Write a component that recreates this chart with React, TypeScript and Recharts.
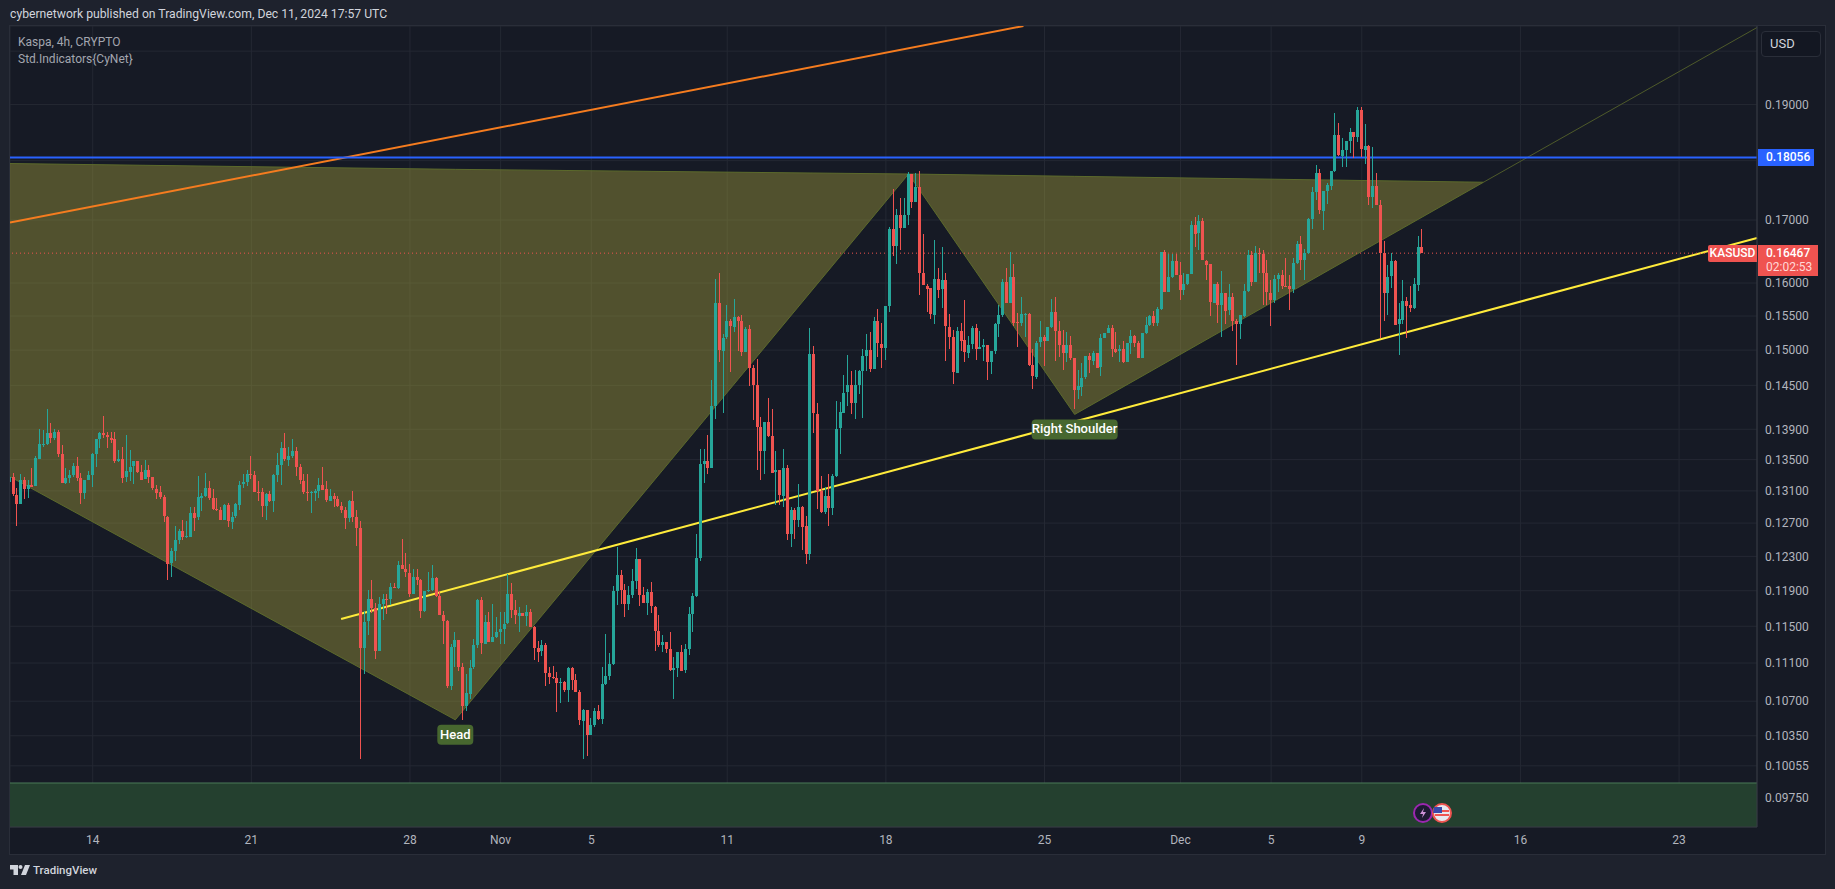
import React from "react";
import {
  Area,
  Bar,
  CartesianGrid,
  ComposedChart,
  ReferenceArea,
  ReferenceDot,
  ReferenceLine,
  XAxis,
  YAxis,
} from "recharts";

const UP = "#26a69a";
const DOWN = "#ef5350";
const FONT = "Roboto, 'Noto Sans', sans-serif";

// 4h candles, the first one opens Oct 10 08:00. Day numbers count from Oct 0.
const FIRST_DAY = 10 + 1 / 3;
const FIRST_OPEN = 0.132;

const closes = [
  0.1327, 0.1305, 0.1294, 0.1324, 0.1313, 0.1318, 0.1316, 0.1352, 0.1371, 0.1371,
  0.1385, 0.1378, 0.1386, 0.1357, 0.132, 0.1326, 0.133, 0.1342, 0.1326, 0.1307,
  0.1324, 0.133, 0.1357, 0.1377, 0.1385, 0.1382, 0.1379, 0.1377, 0.1348, 0.1351,
  0.1327, 0.1335, 0.1341, 0.1348, 0.1334, 0.1324, 0.1336, 0.1327, 0.1313, 0.1308,
  0.1302, 0.1278, 0.1222, 0.1236, 0.1249, 0.126, 0.1253, 0.1254, 0.1283, 0.1277,
  0.1302, 0.1304, 0.1314, 0.1301, 0.1287, 0.1286, 0.1274, 0.1292, 0.1272, 0.1278,
  0.1293, 0.1318, 0.1321, 0.1331, 0.133, 0.1309, 0.1308, 0.1291, 0.1306, 0.1297,
  0.133, 0.1343, 0.1365, 0.135, 0.1355, 0.1361, 0.134, 0.1323, 0.1309, 0.1308,
  0.1308, 0.131, 0.1318, 0.1312, 0.1298, 0.1304, 0.13, 0.1291, 0.1286, 0.1276,
  0.1297, 0.1277, 0.1264, 0.1126, 0.1155, 0.118, 0.117, 0.1123, 0.1175, 0.1181,
  0.118, 0.1194, 0.1193, 0.122, 0.1215, 0.1211, 0.1187, 0.1206, 0.1202, 0.1167,
  0.119, 0.1191, 0.1205, 0.1184, 0.1163, 0.1156, 0.1086, 0.1127, 0.1135, 0.1106,
  0.1065, 0.1078, 0.1105, 0.1129, 0.1179, 0.1131, 0.1155, 0.1133, 0.1138, 0.1144,
  0.1147, 0.1153, 0.1186, 0.1168, 0.1162, 0.1165, 0.1162, 0.1166, 0.1149, 0.1126,
  0.1122, 0.1129, 0.1099, 0.1095, 0.1094, 0.1089, 0.109, 0.1082, 0.1105, 0.1092,
  0.1079, 0.105, 0.1061, 0.1036, 0.1046, 0.106, 0.1052, 0.1088, 0.1096, 0.1109,
  0.119, 0.1208, 0.1191, 0.1175, 0.1185, 0.1201, 0.1227, 0.1185, 0.1176, 0.1188,
  0.1172, 0.1145, 0.113, 0.1133, 0.1125, 0.1103, 0.1105, 0.1122, 0.1102, 0.1125,
  0.1164, 0.1184, 0.1228, 0.1344, 0.1348, 0.1339, 0.1421, 0.1569, 0.1499, 0.1518,
  0.1542, 0.1534, 0.1549, 0.1543, 0.1498, 0.1531, 0.1474, 0.145, 0.1393, 0.1361,
  0.14, 0.1381, 0.1333, 0.1336, 0.1304, 0.1339, 0.1257, 0.1286, 0.1274, 0.129,
  0.1266, 0.1232, 0.1494, 0.1411, 0.131, 0.1284, 0.1304, 0.1289, 0.1329, 0.1391,
  0.1413, 0.144, 0.145, 0.1425, 0.145, 0.147, 0.1491, 0.15, 0.1473, 0.1542,
  0.1509, 0.1503, 0.1565, 0.1685, 0.1658, 0.1709, 0.1688, 0.1709, 0.1777, 0.173,
  0.1755, 0.1615, 0.1596, 0.1592, 0.1553, 0.1607, 0.159, 0.1604, 0.1534, 0.1519,
  0.1468, 0.1528, 0.1514, 0.1496, 0.1508, 0.1532, 0.1502, 0.1505, 0.1508, 0.1483,
  0.1499, 0.1538, 0.1552, 0.1602, 0.157, 0.161, 0.1541, 0.154, 0.1553, 0.1553,
  0.1478, 0.1462, 0.1511, 0.1519, 0.1513, 0.1534, 0.1556, 0.1528, 0.1507, 0.1495,
  0.1507, 0.1488, 0.1443, 0.1449, 0.1461, 0.1491, 0.1485, 0.1496, 0.1475, 0.1517,
  0.1525, 0.1533, 0.1502, 0.1498, 0.1501, 0.1482, 0.151, 0.152, 0.151, 0.1489,
  0.1525, 0.1537, 0.155, 0.154, 0.1561, 0.1649, 0.1587, 0.161, 0.1635, 0.1613,
  0.159, 0.1599, 0.1614, 0.1692, 0.1678, 0.1698, 0.1635, 0.1629, 0.157, 0.1599,
  0.1567, 0.1585, 0.1558, 0.1578, 0.1542, 0.1537, 0.1551, 0.1588, 0.1644, 0.1602,
  0.1647, 0.1645, 0.1615, 0.1585, 0.1575, 0.1607, 0.1613, 0.1596, 0.1595, 0.159,
  0.1631, 0.1661, 0.1636, 0.1647, 0.1701, 0.1746, 0.1778, 0.1715, 0.1748, 0.1758,
  0.1783, 0.1845, 0.1809, 0.1819, 0.1834, 0.185, 0.1841, 0.1889, 0.1819, 0.1826,
  0.1738, 0.1756, 0.1725, 0.1647, 0.1585, 0.161, 0.1634, 0.1537, 0.1545, 0.1573,
  0.1566, 0.1561, 0.1598, 0.1657, 0.16467,
];

const highs = [
  0.1334, 0.1333, 0.1314, 0.1331, 0.1327, 0.1324, 0.1339, 0.1355, 0.139, 0.1389,
  0.1418, 0.1398, 0.139, 0.1389, 0.1369, 0.1339, 0.1337, 0.1346, 0.1353, 0.1333,
  0.1324, 0.1335, 0.1358, 0.1377, 0.1387, 0.1408, 0.1387, 0.1386, 0.1386, 0.1362,
  0.1367, 0.1382, 0.1363, 0.1348, 0.1348, 0.1343, 0.1349, 0.1343, 0.1328, 0.1318,
  0.1316, 0.1305, 0.1279, 0.124, 0.1266, 0.1263, 0.1274, 0.1273, 0.129, 0.129,
  0.1329, 0.1307, 0.1333, 0.1322, 0.1313, 0.1301, 0.129, 0.1293, 0.1295, 0.1284,
  0.1295, 0.1322, 0.1331, 0.1337, 0.1355, 0.1335, 0.1322, 0.1314, 0.1307, 0.131,
  0.1331, 0.1359, 0.1373, 0.1385, 0.1367, 0.1377, 0.1367, 0.1344, 0.1331, 0.1331,
  0.131, 0.1313, 0.1326, 0.134, 0.1323, 0.1313, 0.1307, 0.1304, 0.1296, 0.129,
  0.1298, 0.131, 0.1286, 0.1272, 0.1167, 0.1191, 0.1202, 0.1176, 0.1183, 0.1186,
  0.1186, 0.1199, 0.1199, 0.1225, 0.1251, 0.1234, 0.1221, 0.1215, 0.1215, 0.1204,
  0.119, 0.1212, 0.122, 0.1206, 0.119, 0.1167, 0.1157, 0.1131, 0.1144, 0.1135,
  0.111, 0.1098, 0.1113, 0.1136, 0.1181, 0.1183, 0.1162, 0.1166, 0.1175, 0.116,
  0.1166, 0.1166, 0.1209, 0.1199, 0.1179, 0.1172, 0.1165, 0.1174, 0.1169, 0.115,
  0.1134, 0.1135, 0.1132, 0.1106, 0.1107, 0.1101, 0.1094, 0.1091, 0.1106, 0.1106,
  0.1098, 0.1082, 0.1062, 0.1061, 0.1053, 0.1063, 0.1066, 0.1106, 0.1141, 0.1121,
  0.1195, 0.1241, 0.1214, 0.1198, 0.1195, 0.1215, 0.124, 0.1227, 0.1194, 0.1192,
  0.12, 0.1173, 0.1162, 0.114, 0.1133, 0.1144, 0.1116, 0.1122, 0.1129, 0.1131,
  0.1171, 0.1187, 0.1257, 0.1364, 0.1364, 0.1382, 0.1457, 0.1607, 0.1616, 0.1524,
  0.1567, 0.1545, 0.1576, 0.155, 0.1552, 0.1534, 0.1536, 0.1478, 0.1487, 0.1407,
  0.14, 0.1433, 0.1417, 0.1361, 0.1336, 0.1364, 0.1343, 0.129, 0.1289, 0.1319,
  0.1291, 0.1279, 0.1533, 0.1506, 0.1425, 0.1329, 0.1315, 0.1332, 0.1331, 0.1429,
  0.1427, 0.1464, 0.1493, 0.147, 0.1471, 0.1471, 0.1502, 0.1523, 0.1526, 0.1548,
  0.1561, 0.154, 0.1565, 0.1688, 0.1752, 0.1719, 0.1736, 0.1736, 0.1781, 0.1777,
  0.1779, 0.1783, 0.1677, 0.1598, 0.1593, 0.1668, 0.1624, 0.1656, 0.1615, 0.1553,
  0.1529, 0.1534, 0.154, 0.1574, 0.152, 0.1535, 0.1538, 0.1528, 0.1516, 0.1508,
  0.1499, 0.154, 0.1567, 0.1607, 0.1624, 0.1649, 0.1629, 0.1555, 0.1578, 0.1555,
  0.1555, 0.1502, 0.1513, 0.1543, 0.1522, 0.1534, 0.1576, 0.1578, 0.1543, 0.1529,
  0.1526, 0.152, 0.1489, 0.1471, 0.1482, 0.1491, 0.1496, 0.1499, 0.1496, 0.1523,
  0.1525, 0.1537, 0.1536, 0.1526, 0.1508, 0.1513, 0.151, 0.153, 0.1522, 0.1513,
  0.1525, 0.1548, 0.1552, 0.1557, 0.1563, 0.1649, 0.1652, 0.1646, 0.1646, 0.1646,
  0.1632, 0.1616, 0.1614, 0.1698, 0.1705, 0.1709, 0.1703, 0.1636, 0.163, 0.1599,
  0.1602, 0.1619, 0.1585, 0.1599, 0.1585, 0.1545, 0.1551, 0.1599, 0.1652, 0.165,
  0.1658, 0.1655, 0.1652, 0.1636, 0.1605, 0.1613, 0.1615, 0.162, 0.1639, 0.1613,
  0.1639, 0.1666, 0.1674, 0.1653, 0.1703, 0.1755, 0.1793, 0.1786, 0.1749, 0.1761,
  0.1783, 0.1884, 0.1866, 0.1839, 0.1834, 0.1857, 0.185, 0.1896, 0.1896, 0.1864,
  0.1827, 0.1824, 0.1778, 0.1733, 0.1666, 0.1628, 0.1647, 0.1636, 0.1569, 0.1604,
  0.1579, 0.1595, 0.1608, 0.1674, 0.1685,
];

const lows = [
  0.13, 0.1304, 0.1267, 0.1294, 0.1299, 0.1301, 0.1315, 0.1316, 0.1351, 0.1367,
  0.137, 0.1372, 0.1376, 0.1354, 0.132, 0.1319, 0.1321, 0.1328, 0.1322, 0.1294,
  0.13, 0.1323, 0.1314, 0.1341, 0.1366, 0.1378, 0.1366, 0.1371, 0.1345, 0.1346,
  0.1321, 0.1321, 0.1323, 0.1319, 0.1333, 0.1324, 0.1324, 0.132, 0.1312, 0.13,
  0.13, 0.1272, 0.1203, 0.1206, 0.1224, 0.1245, 0.125, 0.1252, 0.1254, 0.1261,
  0.1274, 0.1284, 0.1302, 0.1298, 0.1287, 0.1285, 0.1274, 0.1274, 0.1265, 0.1263,
  0.1276, 0.1286, 0.1313, 0.1317, 0.1325, 0.1309, 0.1297, 0.1278, 0.1274, 0.1296,
  0.1283, 0.1322, 0.1317, 0.1348, 0.1342, 0.1352, 0.133, 0.1318, 0.1306, 0.1297,
  0.1282, 0.1298, 0.1301, 0.1312, 0.1296, 0.1298, 0.129, 0.129, 0.1282, 0.1263,
  0.1271, 0.1272, 0.1242, 0.1012, 0.1098, 0.1141, 0.1164, 0.1114, 0.1123, 0.1157,
  0.1163, 0.1174, 0.1193, 0.1193, 0.1215, 0.1206, 0.1183, 0.1186, 0.1196, 0.116,
  0.1166, 0.1189, 0.119, 0.1183, 0.1163, 0.1131, 0.1084, 0.1082, 0.1106, 0.1102,
  0.1051, 0.106, 0.1072, 0.1104, 0.1127, 0.112, 0.1131, 0.1133, 0.1133, 0.1137,
  0.1131, 0.1131, 0.1152, 0.1159, 0.1152, 0.1144, 0.1162, 0.115, 0.1149, 0.1113,
  0.1111, 0.1118, 0.1086, 0.1088, 0.1093, 0.1059, 0.1068, 0.1079, 0.1069, 0.1082,
  0.1079, 0.1046, 0.1012, 0.1015, 0.1036, 0.1044, 0.1051, 0.1047, 0.1086, 0.1092,
  0.1108, 0.1174, 0.1175, 0.1161, 0.1168, 0.1181, 0.1192, 0.1173, 0.1176, 0.1163,
  0.1165, 0.1123, 0.1127, 0.1122, 0.1121, 0.1102, 0.1072, 0.1095, 0.1101, 0.11,
  0.1118, 0.1143, 0.1183, 0.1225, 0.132, 0.1331, 0.1339, 0.1404, 0.1484, 0.1413,
  0.1517, 0.1468, 0.1527, 0.1498, 0.1492, 0.1497, 0.1448, 0.1402, 0.1336, 0.1324,
  0.1332, 0.138, 0.1333, 0.1292, 0.1292, 0.129, 0.1249, 0.1241, 0.1251, 0.1266,
  0.1238, 0.1221, 0.1226, 0.1385, 0.1287, 0.1282, 0.1281, 0.1267, 0.128, 0.1328,
  0.1358, 0.1411, 0.1422, 0.1411, 0.1403, 0.1437, 0.1405, 0.147, 0.1468, 0.1472,
  0.1491, 0.1475, 0.1486, 0.1556, 0.1642, 0.1631, 0.1652, 0.1688, 0.1692, 0.1719,
  0.173, 0.1583, 0.1596, 0.1556, 0.1546, 0.1538, 0.1578, 0.1561, 0.1484, 0.1501,
  0.1452, 0.1468, 0.1499, 0.1483, 0.1488, 0.1501, 0.1485, 0.1504, 0.1484, 0.1458,
  0.1466, 0.1495, 0.152, 0.1549, 0.157, 0.157, 0.1535, 0.1505, 0.1535, 0.152,
  0.1478, 0.1445, 0.1458, 0.1505, 0.1477, 0.1513, 0.1532, 0.1484, 0.1491, 0.1471,
  0.1483, 0.1485, 0.1418, 0.143, 0.1436, 0.1459, 0.1468, 0.1479, 0.1474, 0.1462,
  0.1517, 0.1525, 0.1489, 0.1496, 0.1484, 0.1482, 0.1482, 0.1495, 0.1504, 0.1489,
  0.1489, 0.1523, 0.1535, 0.1535, 0.1535, 0.156, 0.1587, 0.1587, 0.1608, 0.1613,
  0.1573, 0.1582, 0.1597, 0.1614, 0.1657, 0.1652, 0.1635, 0.1605, 0.1551, 0.157,
  0.154, 0.1519, 0.1538, 0.1552, 0.1528, 0.1478, 0.1516, 0.1549, 0.1587, 0.1596,
  0.1602, 0.1616, 0.1567, 0.1567, 0.1535, 0.157, 0.1585, 0.1591, 0.1594, 0.156,
  0.1584, 0.1629, 0.162, 0.1604, 0.1645, 0.1685, 0.1733, 0.1711, 0.1685, 0.1725,
  0.1751, 0.178, 0.1807, 0.1788, 0.1788, 0.1812, 0.1804, 0.1834, 0.1807, 0.1793,
  0.1725, 0.172, 0.1725, 0.1517, 0.1542, 0.1552, 0.1593, 0.1537, 0.1492, 0.1537,
  0.1518, 0.1555, 0.1561, 0.1588, 0.1647,
];

// tick labels
const priceTicks = [
  0.2, 0.19, 0.18, 0.17, 0.16, 0.155, 0.15, 0.145, 0.139, 0.135, 0.131, 0.127, 0.123,
  0.119, 0.115, 0.111, 0.107, 0.1035, 0.10055, 0.0975,
];
const hiddenPriceTicks = [0.2, 0.18];
const dayTicks = [14, 21, 28, 32, 36, 42, 49, 56, 62, 66, 70, 77, 84];
const dayLabels = ["14", "21", "28", "Nov", "5", "11", "18", "25", "Dec", "5", "9", "16", "23"];

// head and shoulders pattern, outline
const patternDays = [10.35, 30, 50, 57.33, 75.37];
const patternLower = [0.1328, 0.1051, 0.1777, 0.141, 0.1763];
const patternUpper = [0.1795, 0.1785, 0.1777, 0.1773, 0.1763];

const DAY_MIN = 10.35;
const DAY_MAX = 87.44;
const PRICE_MIN = 0.0948;
const PRICE_MAX = 0.2049;

const opens = closes.map((_, i) => (i === 0 ? FIRST_OPEN : closes[i - 1]));
const candles = closes.map((close, i) => ({
  day: FIRST_DAY + i / 6,
  open: opens[i],
  close,
  wick: [lows[i], highs[i]],
  body: [Math.min(opens[i], close), Math.max(opens[i], close)],
}));
const patternRows = patternDays.map((day, i) => ({
  day,
  band: [patternLower[i], patternUpper[i]],
}));

const CandlePart = (props: any) => {
  const { x, y, width, height, payload } = props;
  const up = payload.close >= payload.open;
  return (
    <rect
      x={Math.round(x)}
      y={Math.round(y)}
      width={width}
      height={Math.max(Math.round(height), 1)}
      fill={up ? UP : DOWN}
      shapeRendering="crispEdges"
    />
  );
};

const PatternLabel = ({ cx, cy, text, width }: any) => (
  <g>
    <rect x={cx - width / 2} y={cy + 5} width={width} height={20} rx={4} fill="#47672f" />
    <text
      x={cx}
      y={cy + 19}
      textAnchor="middle"
      fontFamily={FONT}
      fontSize={13}
      fontWeight={500}
      fill="#ffffff"
    >
      {text}
    </text>
  </g>
);

const tag: React.CSSProperties = {
  position: "absolute",
  color: "#fff",
  fontFamily: FONT,
  fontSize: 12,
  fontWeight: 500,
  boxSizing: "border-box",
};

// one hidden time axis per layer, so wicks and bodies share a slot
const hiddenAxis = (id: string) => (
  <XAxis
    key={id}
    xAxisId={id}
    dataKey="day"
    type="number"
    domain={[DAY_MIN, DAY_MAX]}
    allowDataOverflow
    height={0}
    hide
  />
);

export default function App() {
  return (
    <div
      style={{
        position: "absolute",
        left: 0,
        top: 0,
        width: 1835,
        height: 889,
        overflow: "hidden",
        background: "#1e222d",
        fontFamily: FONT,
      }}
    >
      <div style={{ position: "absolute", left: 10, top: 7, fontSize: 12.2, color: "#d1d4dc", whiteSpace: "nowrap" }}>
        cybernetwork published on TradingView.com, Dec 11, 2024 17:57 UTC
      </div>

      <div
        style={{
          position: "absolute",
          left: 10,
          top: 26,
          width: 1815,
          height: 828,
          background: "#161a25",
          outline: "1px solid #2a2e39",
        }}
      >
        <ComposedChart
          width={1815}
          height={828}
          data={candles}
          margin={{ top: 0, right: 0, bottom: 0, left: 0 }}
        >
          <CartesianGrid xAxisId="main" stroke="#242833" />
          <XAxis
            xAxisId="main"
            dataKey="day"
            type="number"
            domain={[DAY_MIN, DAY_MAX]}
            allowDataOverflow
            ticks={dayTicks}
            interval={0}
            height={27}
            tickLine={false}
            stroke="#363a45"
            tick={{ fill: "#b2b5be", fontSize: 12, fontFamily: FONT }}
            tickFormatter={(d: number) => dayLabels[dayTicks.indexOf(d)]}
          />
          {hiddenAxis("pattern")}
          {hiddenAxis("wick")}
          {hiddenAxis("body")}
          <YAxis
            orientation="right"
            scale="log"
            type="number"
            domain={[PRICE_MIN, PRICE_MAX]}
            allowDataOverflow
            ticks={priceTicks}
            interval={0}
            width={68}
            tickLine={false}
            stroke="#363a45"
            tick={{ fill: "#b2b5be", fontSize: 12, fontFamily: FONT }}
            tickFormatter={(v: number) => (hiddenPriceTicks.includes(v) ? "" : v.toFixed(5))}
          />

          <ReferenceArea
            xAxisId="main"
            x1={DAY_MIN}
            x2={DAY_MAX}
            y1={PRICE_MIN}
            y2={0.0989}
            fill="#24402f"
            fillOpacity={1}
            stroke="none"
          />
          <ReferenceLine xAxisId="main" y={0.0989} stroke="#4b7a58" strokeWidth={1} />

          <Area
            xAxisId="pattern"
            data={patternRows}
            dataKey="band"
            type="linear"
            fill="#a9a53c"
            fillOpacity={0.4}
            stroke="#5c6a2c"
            strokeWidth={1}
            dot={false}
            activeDot={false}
            isAnimationActive={false}
          />

          <ReferenceLine
            xAxisId="main"
            zIndex={200}
            segment={[
              { x: 75.37, y: 0.1763 },
              { x: DAY_MAX, y: 0.2046 },
            ]}
            stroke="#4e5a2a"
            strokeWidth={1}
          />
          <ReferenceLine
            xAxisId="main"
            zIndex={200}
            segment={[
              { x: DAY_MIN, y: 0.1696 },
              { x: 55.07, y: PRICE_MAX },
            ]}
            stroke="#f57c1f"
            strokeWidth={2}
          />
          <ReferenceLine
            xAxisId="main"
            zIndex={200}
            segment={[
              { x: 24.96, y: 0.1158 },
              { x: DAY_MAX, y: 0.1671 },
            ]}
            stroke="#ffeb3b"
            strokeWidth={2}
          />
          <ReferenceLine xAxisId="main" zIndex={200} y={0.18056} stroke="#2962ff" strokeWidth={2} />
          <ReferenceLine xAxisId="main" zIndex={200} y={0.16467} stroke={DOWN} strokeDasharray="1 3" />

          <Bar
            xAxisId="wick"
            dataKey="wick"
            barSize={1}
            shape={CandlePart}
            isAnimationActive={false}
          />
          <Bar
            xAxisId="body"
            dataKey="body"
            barSize={3}
            shape={CandlePart}
            isAnimationActive={false}
          />

          <ReferenceDot
            xAxisId="main"
            x={30}
            y={0.1051}
            shape={(p: any) => <PatternLabel {...p} text="Head" width={36} />}
          />
          <ReferenceDot
            xAxisId="main"
            x={57.33}
            y={0.141}
            shape={(p: any) => <PatternLabel {...p} text="Right Shoulder" width={86} />}
          />
        </ComposedChart>
      </div>

      <div style={{ position: "absolute", left: 18, top: 35, fontSize: 12, color: "#a3a6af", whiteSpace: "nowrap" }}>
        Kaspa, 4h, CRYPTO
      </div>
      <div style={{ position: "absolute", left: 18, top: 52, fontSize: 12, color: "#a3a6af", whiteSpace: "nowrap" }}>
        Std.Indicators{"{CyNet}"}
      </div>

      <div
        style={{
          position: "absolute",
          left: 1761,
          top: 31,
          width: 60,
          height: 26,
          boxSizing: "border-box",
          border: "1px solid #2a2e39",
          borderRadius: 4,
          background: "#131722",
          color: "#d1d4dc",
          fontSize: 13,
          lineHeight: "24px",
          paddingLeft: 8,
        }}
      >
        USD
      </div>

      <div style={{ ...tag, left: 1758, top: 149, width: 56, height: 17, background: "#2962ff", lineHeight: "17px", paddingLeft: 8 }}>
        0.18056
      </div>
      <div style={{ ...tag, left: 1708, top: 245, width: 49, height: 17, background: DOWN, lineHeight: "17px", textAlign: "center", borderRadius: "2px 0 0 2px" }}>
        KASUSD
      </div>
      <div style={{ ...tag, left: 1758, top: 245, width: 60, height: 31, background: DOWN, paddingLeft: 8, lineHeight: "16px" }}>
        0.16467
        <div style={{ fontWeight: 400, color: "#ffd9d7", fontSize: 12, lineHeight: "13px" }}>02:02:53</div>
      </div>

      {/* event markers on the time axis */}
      <svg style={{ position: "absolute", left: 1412, top: 802 }} width={42} height={22}>
        <circle cx={11} cy={11} r={9} fill="#1e1a33" stroke="#9c27b0" strokeWidth={2} />
        <path d="M12 6 L8 12 L11 12 L10 16 L14 10 L11 10 Z" fill="#ce93d8" />
        <circle cx={30} cy={11} r={9} fill="#e8e8ee" stroke="#ef5350" strokeWidth={2} />
        <rect x={23} y={8} width={14} height={2} fill="#ef5350" />
        <rect x={23} y={12} width={14} height={2} fill="#ef5350" />
        <path d="M22 5 h8 v6 h-9 z" fill="#3949ab" />
      </svg>

      <svg style={{ position: "absolute", left: 10, top: 864 }} width={20} height={12}>
        <path d="M0 1 H8 V11 H3.5 V5.5 H0 Z M11 11 L15 1 H20 L16 11 Z" fill="#d1d4dc" />
        <circle cx={10.5} cy={3} r={2} fill="#d1d4dc" />
      </svg>
      <div style={{ position: "absolute", left: 33, top: 863, fontSize: 11.5, fontWeight: 500, color: "#d1d4dc", whiteSpace: "nowrap" }}>
        TradingView
      </div>
    </div>
  );
}
